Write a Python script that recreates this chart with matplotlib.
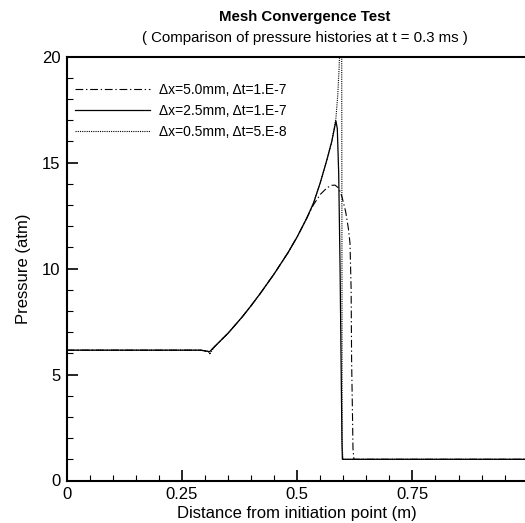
import matplotlib
matplotlib.use("Agg")
import matplotlib.pyplot as plt
from matplotlib.ticker import MultipleLocator

plt.rcParams['font.family'] = ['Liberation Sans', 'DejaVu Sans']

# ---- data ----
x_flat = [0.0, 0.05, 0.10, 0.15, 0.20, 0.25, 0.29]
p_flat = [6.15, 6.15, 6.15, 6.15, 6.15, 6.15, 6.15]

x_rise = [0.30, 0.31, 0.32, 0.35, 0.38, 0.40, 0.42, 0.45, 0.48, 0.50, 0.52]
p_rise = [6.12, 6.08, 6.30, 6.95, 7.70, 8.25, 8.83, 9.75, 10.75, 11.50, 12.35]

x_dx50 = [0.305, 0.535, 0.55, 0.565, 0.575, 0.582, 0.59, 0.597, 0.605, 0.611,
          0.6145, 0.617, 0.618, 0.620, 0.621, 0.623, 0.70, 0.85, 1.0]
p_dx50 = [6.02, 13.0, 13.5, 13.82, 13.93, 13.94, 13.8, 13.4, 12.7, 11.9,
          11.2, 9.0, 5.7, 3.0, 1.5, 1.0, 1.0, 1.0, 1.0]

x_dx25 = [0.535, 0.55, 0.564, 0.575, 0.584, 0.587, 0.590, 0.593, 0.5955, 0.597,
          0.598, 0.70, 0.85, 1.0]
p_dx25 = [13.07, 14.05, 15.1, 16.0, 16.97, 16.6, 14.5, 10.0, 5.0, 2.0,
          1.0, 1.0, 1.0, 1.0]

x_dx05 = [0.31, 0.535, 0.55, 0.564, 0.575, 0.584, 0.588, 0.591, 0.594, 0.5965,
          0.5975, 0.599, 0.601, 0.70, 0.85, 1.0]
p_dx05 = [5.95, 13.07, 14.05, 15.1, 16.0, 17.1, 18.2, 19.5, 21.5, 21.5,
          1.6, 1.1, 1.0, 1.0, 1.0, 1.0]

labels = ["\u0394x=5.0mm, \u0394t=1.E-7",
          "\u0394x=2.5mm, \u0394t=1.E-7",
          "\u0394x=0.5mm, \u0394t=5.E-8"]

x_ticks = [0, 0.25, 0.5, 0.75]
x_tick_labels = ['0', '0.25', '0.5', '0.75']
y_ticks = [0, 5, 10, 15, 20]
y_tick_labels = ['0', '5', '10', '15', '20']


def build(xs, ps):
    # shared flat + rise section followed by series-specific part
    bx = list(x_flat) + list(x_rise)
    bp = list(p_flat) + list(p_rise)
    pairs = sorted(zip(bx + list(xs), bp + list(ps)), key=lambda t: t[0])
    return [a for a, _ in pairs], [b for _, b in pairs]


fig = plt.figure(figsize=(5.25, 5.23), dpi=100)
ax = fig.add_axes([66.7 / 525, 1 - 480.5 / 523, (527.7 - 66.7) / 525, (480.5 - 56.7) / 523])

x1, y1 = build(x_dx50, p_dx50)
x2, y2 = build(x_dx25, p_dx25)
x3, y3 = build(x_dx05, p_dx05)

ax.plot(x1, y1, color='black', lw=0.8, linestyle=(0, (7, 2.5, 1.2, 2.5)), label=labels[0])
ax.plot(x2, y2, color='black', lw=0.9, linestyle='-', label=labels[1])
ax.plot(x3, y3, color='black', lw=0.8, linestyle=(0, (1, 1)), label=labels[2])

ax.set_xlim(0, 1.0)
ax.set_ylim(0, 20)

ax.xaxis.set_minor_locator(MultipleLocator(0.05))
ax.yaxis.set_minor_locator(MultipleLocator(1))
ax.set_xticks(x_ticks)
ax.set_xticklabels(x_tick_labels)
ax.set_yticks(y_ticks)
ax.set_yticklabels(y_tick_labels)

ax.tick_params(which='both', direction='in', top=False, right=False, labelsize=12)
ax.tick_params(which='major', length=8, width=1.2, pad=4.5)
ax.tick_params(which='minor', length=4.5, width=0.8)

for s in ['left', 'bottom', 'top']:
    ax.spines[s].set_linewidth(1.5)
ax.spines['right'].set_visible(False)

ax.set_xlabel("Distance from initiation point (m)", fontsize=12, labelpad=3)
ax.set_ylabel("Pressure (atm)", fontsize=12, labelpad=8)

fig.text(305 / 525, 1 - 17 / 523, "Mesh Convergence Test", ha='center', va='center',
         fontsize=10.8, fontweight='bold')
fig.text(305 / 525, 1 - 38 / 523, "( Comparison of pressure histories at t = 0.3 ms )",
         ha='center', va='center', fontsize=10.8)

leg = ax.legend(loc='upper left', bbox_to_anchor=(8 / 461, 1 - 26.5 / 424), frameon=False,
                fontsize=10, handlelength=5.4, handletextpad=0.7, labelspacing=0.5,
                borderaxespad=0, borderpad=0)

fig.savefig("out.png", dpi=100)
